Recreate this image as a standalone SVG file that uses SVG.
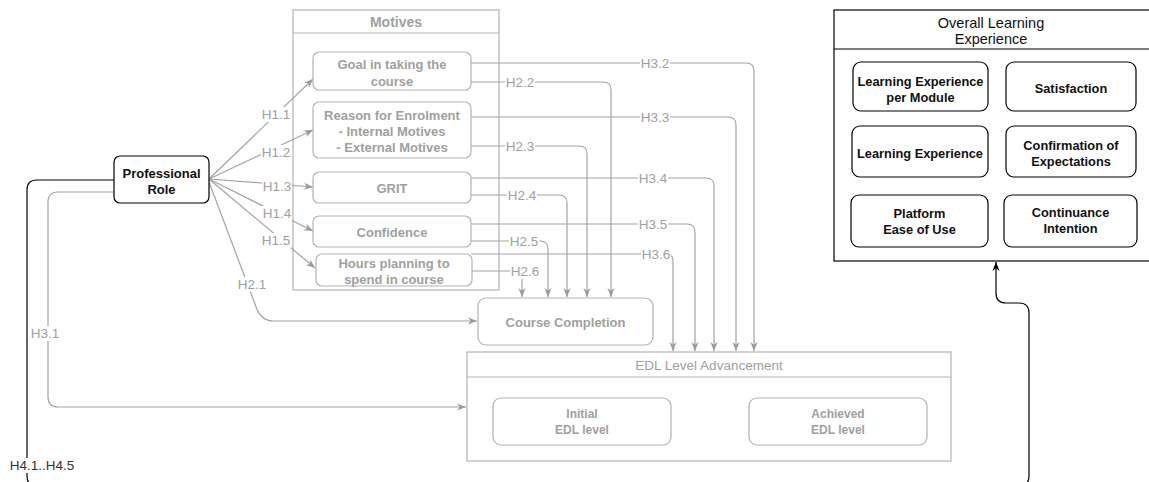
<svg xmlns="http://www.w3.org/2000/svg" width="1149" height="482" viewBox="0 0 1149 482">
<defs>
<marker id="ag" viewBox="0 0 10 10" refX="10" refY="5" markerUnits="userSpaceOnUse" markerWidth="9" markerHeight="9" orient="auto"><path d="M0,1 L10,5 L0,9 L3,5 z" fill="#9a9a9a"/></marker>
<marker id="ab" viewBox="0 0 10 10" refX="10" refY="5" markerUnits="userSpaceOnUse" markerWidth="9" markerHeight="9" orient="auto"><path d="M0,1 L10,5 L0,9 L3,5 z" fill="#000"/></marker>
<style>
.gbox{fill:#fff;stroke:#b3b3b3;stroke-width:1.2}
.bbox{fill:#fff;stroke:#000;stroke-width:1.2}
.gt{font-family:"Liberation Sans",Arial,sans-serif;font-size:13px;font-weight:bold;fill:#a0a0a0;text-anchor:middle}
.bt{font-family:"Liberation Sans",Arial,sans-serif;font-size:12.8px;font-weight:bold;fill:#111;text-anchor:middle}
.gc{fill:none;stroke:#a3a3a3;stroke-width:1.2;marker-end:url(#ag)}
.bc{fill:none;stroke:#000;stroke-width:1.2;marker-end:url(#ab)}
.lb{fill:#fff}
.lbl{font-family:"Liberation Sans",Arial,sans-serif;font-size:13.5px;fill:#a0a0a0;text-anchor:middle}
</style>
</defs>
<rect width="1149" height="482" fill="#fff"/>

<g id="motives">
<rect class="gbox" x="293" y="10" width="206" height="280"/>
<line x1="293" y1="33" x2="499" y2="33" stroke="#b3b3b3" stroke-width="1.2"/>
<text class="gt" x="396" y="27" style="font-size:14px">Motives</text>
</g>
<g id="overall">
<rect class="bbox" x="834" y="10" width="330" height="251"/>
<line x1="834" y1="49" x2="1164" y2="49" stroke="#000" stroke-width="1.2"/>
<text x="991" y="28" style="font-family:'Liberation Sans',Arial,sans-serif;font-size:14.5px;fill:#111;text-anchor:middle">Overall Learning</text>
<text x="991" y="44" style="font-family:'Liberation Sans',Arial,sans-serif;font-size:14.5px;fill:#111;text-anchor:middle">Experience</text>
</g>
<g id="edl">
<rect class="gbox" x="467" y="352" width="484" height="109"/>
<line x1="467" y1="377" x2="951" y2="377" stroke="#b3b3b3" stroke-width="1.2"/>
<text x="709" y="370" style="font-family:'Liberation Sans',Arial,sans-serif;font-size:13.5px;fill:#a0a0a0;text-anchor:middle">EDL Level Advancement</text>
</g>

<g id="connectors">
<path class="gc" d="M209,179 L313,79"/>
<path class="gc" d="M209,179 L313,130"/>
<path class="gc" d="M209,179 L313,187"/>
<path class="gc" d="M209,179 L313,231"/>
<path class="gc" d="M209,179 L315,268"/>
<path class="gc" d="M209,182 L255,304 Q260,321 273,321 L477,321"/>
<path class="gc" d="M114,192 L58,192 Q48,192 48,202 L48,397 Q48,407 58,407 L466,407"/>
<path class="bc" d="M114,180 L37,180 Q27,180 27,190 L27,476 Q27,486 37,486 L1019,486 Q1029,486 1029,476 L1029,313 Q1029,303 1019,303 L1006,303 Q996,303 996,293 L996,262"/>
<path class="gc" d="M471,63 L746,63 Q754,63 754,71 L754,351"/>
<path class="gc" d="M471,82 L603,82 Q611,82 611,90 L611,297"/>
<path class="gc" d="M471,117 L728,117 Q736,117 736,125 L736,351"/>
<path class="gc" d="M471,146 L579,146 Q587,146 587,154 L587,297"/>
<path class="gc" d="M471,178 L706,178 Q714,178 714,186 L714,351"/>
<path class="gc" d="M471,195 L559,195 Q567,195 567,203 L567,297"/>
<path class="gc" d="M471,224 L687,224 Q695,224 695,232 L695,351"/>
<path class="gc" d="M471,241 L540,241 Q548,241 548,249 L548,297"/>
<path class="gc" d="M471,254 L667,254 Q673,254 673,262 L673,351"/>
<path class="gc" d="M471,271 L522,271 L522,297"/>
<rect class="lb" x="261" y="107" width="30" height="15"/><text class="lbl" x="276" y="119">H1.1</text>
<rect class="lb" x="261" y="145" width="30" height="15"/><text class="lbl" x="276" y="157">H1.2</text>
<rect class="lb" x="262" y="179" width="30" height="15"/><text class="lbl" x="277" y="191">H1.3</text>
<rect class="lb" x="262" y="206" width="30" height="15"/><text class="lbl" x="277" y="218">H1.4</text>
<rect class="lb" x="261" y="233" width="30" height="15"/><text class="lbl" x="276" y="245">H1.5</text>
<rect class="lb" x="237" y="277" width="30" height="15"/><text class="lbl" x="252" y="289">H2.1</text>
<rect class="lb" x="30" y="326" width="30" height="15"/><text class="lbl" x="45" y="338">H3.1</text>
<rect class="lb" x="9" y="458" width="66" height="15"/><text class="lbl" x="42" y="470" style="fill:#333">H4.1..H4.5</text>
<rect class="lb" x="640" y="56" width="30" height="15"/><text class="lbl" x="655" y="68">H3.2</text>
<rect class="lb" x="505" y="75" width="30" height="15"/><text class="lbl" x="520" y="87">H2.2</text>
<rect class="lb" x="640" y="110" width="30" height="15"/><text class="lbl" x="655" y="122">H3.3</text>
<rect class="lb" x="505" y="139" width="30" height="15"/><text class="lbl" x="520" y="151">H2.3</text>
<rect class="lb" x="638" y="171" width="30" height="15"/><text class="lbl" x="653" y="183">H3.4</text>
<rect class="lb" x="507" y="188" width="30" height="15"/><text class="lbl" x="522" y="200">H2.4</text>
<rect class="lb" x="638" y="217" width="30" height="15"/><text class="lbl" x="653" y="229">H3.5</text>
<rect class="lb" x="509" y="234" width="30" height="15"/><text class="lbl" x="524" y="246">H2.5</text>
<rect class="lb" x="641" y="247" width="30" height="15"/><text class="lbl" x="656" y="259">H3.6</text>
<rect class="lb" x="510" y="264" width="30" height="15"/><text class="lbl" x="525" y="276">H2.6</text>
</g>

<g id="professional-role">
<rect class="bbox" x="114" y="156" width="95" height="47" rx="6"/>
<text class="bt" x="161.5" y="178" style="font-size:13px">Professional</text>
<text class="bt" x="161.5" y="194" style="font-size:13px">Role</text>
</g>
<g id="goal">
<rect class="gbox" x="313" y="52" width="158" height="38" rx="6"/>
<text class="gt" x="392" y="68.5">Goal in taking the</text>
<text class="gt" x="392" y="85.5">course</text>
</g>
<g id="reason">
<rect class="gbox" x="313" y="102" width="158" height="56" rx="6"/>
<text class="gt" x="392" y="119.5">Reason for Enrolment</text>
<text class="gt" x="392" y="135.5">- Internal Motives</text>
<text class="gt" x="392" y="151.5">- External Motives</text>
</g>
<g id="grit">
<rect class="gbox" x="313" y="172" width="158" height="31" rx="6"/>
<text class="gt" x="392" y="192.5">GRIT</text>
</g>
<g id="confidence">
<rect class="gbox" x="313" y="216" width="158" height="31" rx="6"/>
<text class="gt" x="392" y="236.5">Confidence</text>
</g>
<g id="hours">
<rect class="gbox" x="316" y="254" width="156" height="32" rx="6"/>
<text class="gt" x="394" y="267.5">Hours planning to</text>
<text class="gt" x="394" y="283.5">spend in course</text>
</g>
<g id="course-completion">
<rect class="gbox" x="478" y="298" width="175" height="47" rx="8"/>
<text class="gt" x="565.5" y="326.5">Course Completion</text>
</g>
<g id="initial-edl">
<rect class="gbox" x="493" y="398" width="178" height="47" rx="8"/>
<text class="gt" x="582" y="418" style="font-size:12px">Initial</text>
<text class="gt" x="582" y="434" style="font-size:12px">EDL level</text>
</g>
<g id="achieved-edl">
<rect class="gbox" x="749" y="398" width="178" height="47" rx="8"/>
<text class="gt" x="838" y="418" style="font-size:12px">Achieved</text>
<text class="gt" x="838" y="434" style="font-size:12px">EDL level</text>
</g>
<g id="le-module">
<rect class="bbox" x="853" y="62" width="135" height="49" rx="8"/>
<text class="bt" x="920.5" y="85.5">Learning Experience</text>
<text class="bt" x="920.5" y="101.5">per Module</text>
</g>
<g id="satisfaction">
<rect class="bbox" x="1006" y="62" width="130" height="49" rx="8"/>
<text class="bt" x="1071" y="92.5">Satisfaction</text>
</g>
<g id="learning-experience">
<rect class="bbox" x="852" y="126" width="136" height="51" rx="8"/>
<text class="bt" x="920" y="157.5">Learning Experience</text>
</g>
<g id="confirmation">
<rect class="bbox" x="1006" y="126" width="130" height="51" rx="8"/>
<text class="bt" x="1071" y="149.5">Confirmation of</text>
<text class="bt" x="1071" y="165.5">Expectations</text>
</g>
<g id="platform">
<rect class="bbox" x="851" y="195" width="137" height="52" rx="8"/>
<text class="bt" x="919.5" y="217.5">Platform</text>
<text class="bt" x="919.5" y="233.5">Ease of Use</text>
</g>
<g id="continuance">
<rect class="bbox" x="1004" y="195" width="133" height="52" rx="8"/>
<text class="bt" x="1070.5" y="216.5">Continuance</text>
<text class="bt" x="1070.5" y="232.5">Intention</text>
</g>
</svg>
